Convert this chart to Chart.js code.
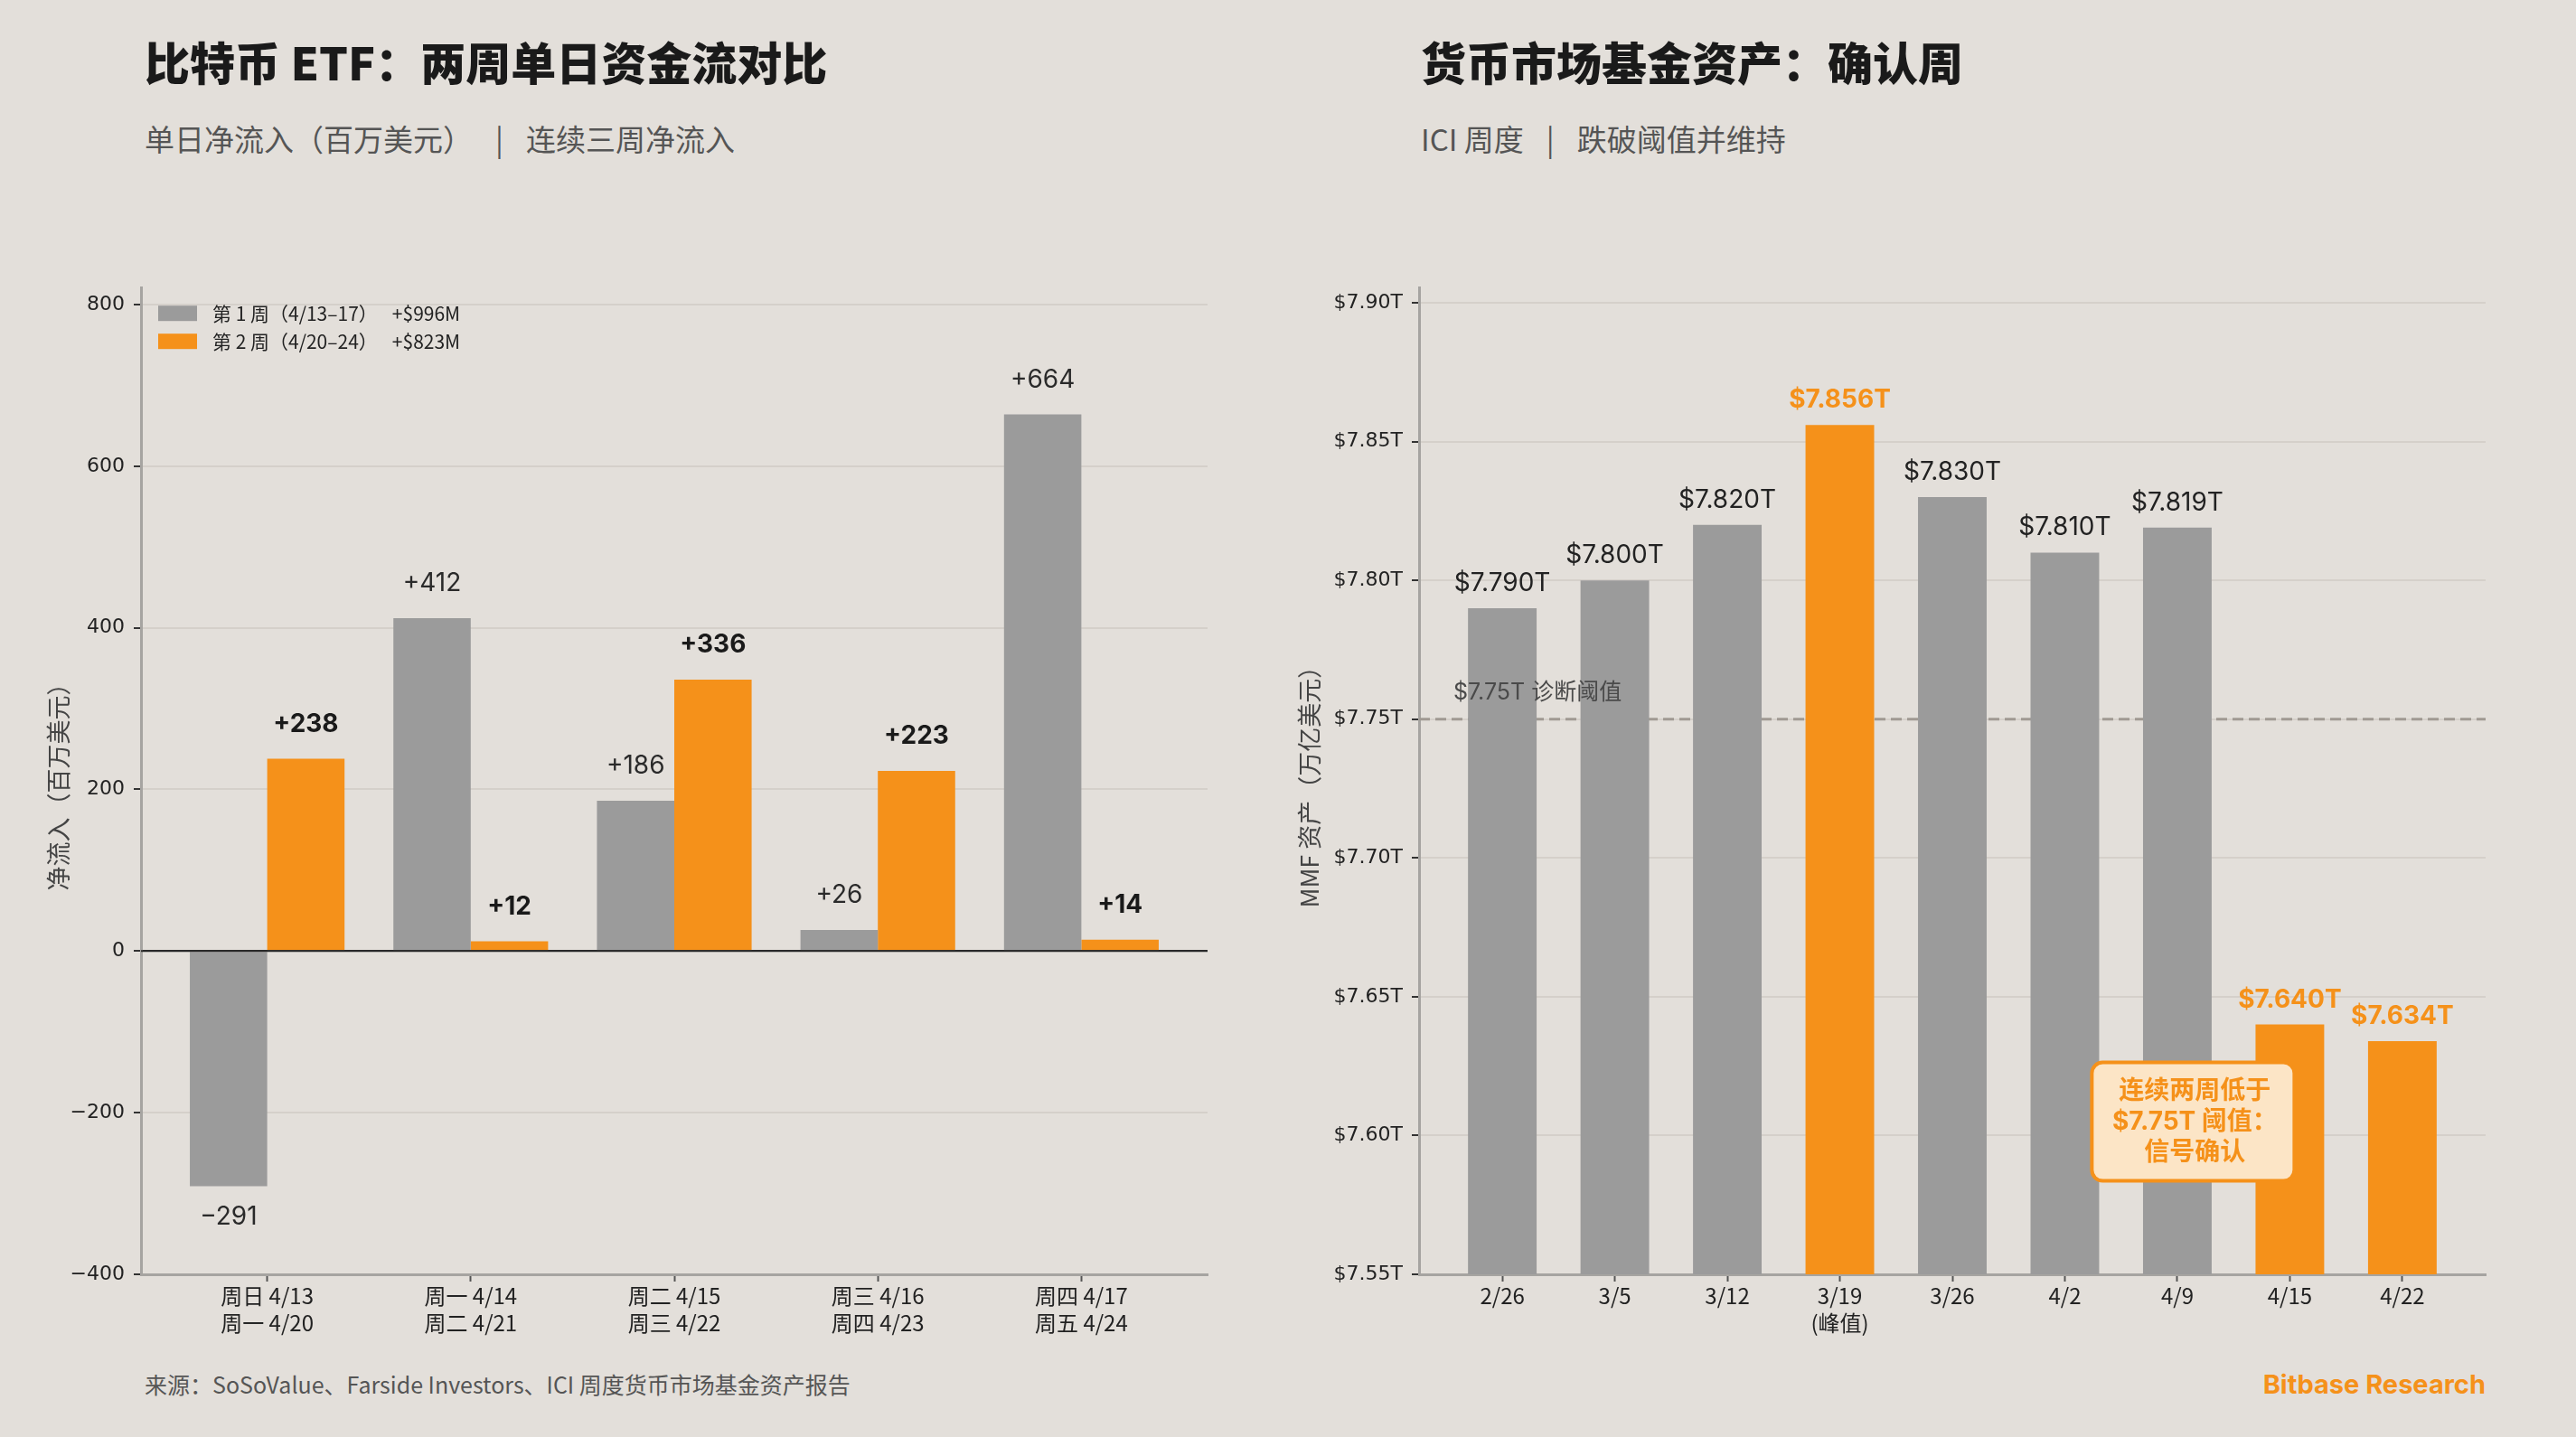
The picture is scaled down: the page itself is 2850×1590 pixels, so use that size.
<!DOCTYPE html>
<html lang="zh-CN">
<head>
<meta charset="utf-8">
<title>比特币 ETF 资金流与货币市场基金资产</title>
<script src="https://cdn.jsdelivr.net/npm/chart.js@4.4.1/dist/chart.umd.min.js"></script>
<style>
  html, body { margin: 0; padding: 0; }
  body {
    width: 2850px; height: 1590px; position: relative; overflow: hidden;
    background: #E3DFDA; font-family: "Noto Sans CJK SC", sans-serif;
  }
  .title { position: absolute; top: 42px; font-size: 50px; font-weight: 900; line-height: 1; color: #1A1A1A; white-space: nowrap; }
  .subtitle { position: absolute; top: 137px; font-size: 33px; line-height: 1; color: #555; white-space: nowrap; }
  .subtitle .sep { margin: 0 25px; }
  .source { position: absolute; left: 160px; top: 1519px; font-size: 25px; line-height: 1; color: #555; white-space: nowrap; }
  .brand { position: absolute; right: 100px; top: 1517px; font-family: Inter, sans-serif; font-size: 29px; font-weight: 700; line-height: 1; color: #F5911A; }
  canvas { position: absolute; }
</style>
</head>
<body>

<div class="title" style="left:160px">比特币 ETF：两周单日资金流对比</div>
<div class="subtitle" style="left:160px">单日净流入（百万美元）<span class="sep">|</span>连续三周净流入</div>

<div class="title" style="left:1572px">货币市场基金资产：确认周</div>
<div class="subtitle" style="left:1572px">ICI 周度<span class="sep">|</span>跌破阈值并维持</div>

<canvas id="flowChart" width="1400" height="1200" style="left:0;top:295px"></canvas>
<canvas id="mmfChart" width="1430" height="1200" style="left:1420px;top:295px"></canvas>

<div class="source">来源：SoSoValue、Farside Investors、ICI 周度货币市场基金资产报告</div>
<div class="brand">Bitbase Research</div>

<script>
// ---- Left chart data: daily net flows, $M ----
const flowDays = [
  ['周日 4/13', '周一 4/20'],
  ['周一 4/14', '周二 4/21'],
  ['周二 4/15', '周三 4/22'],
  ['周三 4/16', '周四 4/23'],
  ['周四 4/17', '周五 4/24']
];
const weekOneFlows = [-291, 412, 186, 26, 664];
const weekTwoFlows = [238, 12, 336, 223, 14];
const flowLegend = ['第 1 周（4/13–17）', '第 2 周（4/20–24）'];
const flowTotals = ['+$996M', '+$823M'];
const flowTicks = [-400, -200, 0, 200, 400, 600, 800];

// ---- Right chart data: MMF assets, $T ----
const mmfWeeks = ['2/26', '3/5', '3/12', ['3/19', '(峰值)'], '3/26', '4/2', '4/9', '4/15', '4/22'];
const mmfAssets = [7.790, 7.800, 7.820, 7.856, 7.830, 7.810, 7.819, 7.640, 7.634];
const mmfHighlight = [false, false, false, true, false, false, false, true, true];
const mmfTicks = [7.55, 7.60, 7.65, 7.70, 7.75, 7.80, 7.85, 7.90];
const mmfThreshold = 7.75;

const GRAY = '#9B9B9B';
const ORANGE = '#F5911A';
const GRID = '#D5D0CA';
const SPINE = '#A6A4A1';
const NUM_FONT = 'Inter, "Noto Sans CJK SC", sans-serif';
const TICK_FONT = '"DejaVu Sans", sans-serif';
const CJK_FONT = '"Noto Sans CJK SC", sans-serif';

function minusFmt(v) {
  return v < 0 ? '\u2212' + Math.abs(v) : String(v);
}

// Shared x axis (linear so we can pad the ends like the original)
function indexAxis(labels, min, max) {
  return {
    type: 'linear', min: min, max: max, bounds: 'data', offset: false,
    afterBuildTicks: s => { s.ticks = labels.map((_, i) => ({ value: i })); },
    afterFit: s => { s.height = 85; },
    ticks: {
      callback: v => labels[v],
      font: { family: CJK_FONT, size: 24, lineHeight: 1.25 },
      color: '#222', padding: 1, maxRotation: 0, autoSkip: false
    },
    grid: { drawOnChartArea: false, offset: false, tickLength: 8, tickColor: '#555', tickWidth: 2 },
    border: { color: SPINE, width: 3 }
  };
}

// Labels, zero line and legend for the flow chart
const flowPlugin = {
  id: 'flowDecor',
  afterDatasetsDraw(chart) {
    const ctx = chart.ctx;
    const area = chart.chartArea;
    const zeroY = chart.scales.y.getPixelForValue(0);
    ctx.save();
    ctx.strokeStyle = '#2A2A2A';
    ctx.lineWidth = 2;
    ctx.beginPath();
    ctx.moveTo(area.left, zeroY);
    ctx.lineTo(area.right, zeroY);
    ctx.stroke();

    ctx.textAlign = 'center';
    [weekOneFlows, weekTwoFlows].forEach((values, di) => {
      const bold = di === 1;
      ctx.font = (bold ? '700' : '400') + ' 28px ' + NUM_FONT;
      ctx.fillStyle = bold ? '#1A1A1A' : '#2A2A2A';
      chart.getDatasetMeta(di).data.forEach((bar, i) => {
        const v = values[i];
        if (v < 0) {
          ctx.textBaseline = 'middle';
          ctx.fillText(minusFmt(v), bar.x, bar.y + 34);
        } else {
          ctx.textBaseline = 'alphabetic';
          ctx.fillText('+' + v, bar.x, bar.y - 30);
        }
      });
    });

    // legend inside the plot, top left
    ctx.textAlign = 'left';
    ctx.textBaseline = 'middle';
    ctx.font = '400 21px ' + CJK_FONT;
    [GRAY, ORANGE].forEach((color, i) => {
      const bx = area.left + 19;
      const by = area.top + 20 + i * 31;
      ctx.fillStyle = color;
      ctx.fillRect(bx, by, 43, 17);
      ctx.fillStyle = '#222';
      ctx.fillText(flowLegend[i], bx + 60, by + 9);
      const w = ctx.measureText(flowLegend[i]).width;
      ctx.fillText(flowTotals[i], bx + 60 + w + 16, by + 9);
    });
    ctx.restore();
  }
};

// Threshold line, labels and callout for the MMF chart
const mmfPlugin = {
  id: 'mmfDecor',
  beforeDatasetsDraw(chart) {
    const ctx = chart.ctx;
    const area = chart.chartArea;
    const ty = chart.scales.y.getPixelForValue(mmfThreshold);
    ctx.save();
    ctx.strokeStyle = '#A09A93';
    ctx.lineWidth = 3;
    ctx.setLineDash([12, 6]);
    ctx.beginPath();
    ctx.moveTo(area.left, ty);
    ctx.lineTo(area.right, ty);
    ctx.stroke();
    ctx.restore();
  },
  afterDatasetsDraw(chart) {
    const ctx = chart.ctx;
    const area = chart.chartArea;
    const xs = chart.scales.x;
    const ys = chart.scales.y;
    ctx.save();
    ctx.textAlign = 'center';
    ctx.textBaseline = 'alphabetic';
    chart.getDatasetMeta(0).data.forEach((bar, i) => {
      const hot = mmfHighlight[i];
      ctx.font = (hot ? '700' : '400') + ' 28px ' + NUM_FONT;
      ctx.fillStyle = hot ? ORANGE : '#222';
      ctx.fillText('$' + mmfAssets[i].toFixed(3) + 'T', bar.x, bar.y - 19);
    });

    // threshold caption
    ctx.textAlign = 'left';
    ctx.textBaseline = 'middle';
    ctx.font = '400 25px ' + NUM_FONT;
    ctx.fillStyle = '#4A4A4A';
    ctx.fillText('$7.75T 诊断阈值', area.left + 38, ys.getPixelForValue(mmfThreshold) - 29);

    // callout box
    const cx = xs.getPixelForValue(6.14);
    const cy = ys.getPixelForValue(7.605);
    const bw = 224, bh = 131;
    ctx.beginPath();
    ctx.roundRect(cx - bw / 2, cy - bh / 2, bw, bh, 12);
    ctx.fillStyle = '#FCE5C6';
    ctx.fill();
    ctx.lineWidth = 4;
    ctx.strokeStyle = ORANGE;
    ctx.stroke();
    ctx.textAlign = 'center';
    ctx.fillStyle = ORANGE;
    ctx.font = '700 28px ' + NUM_FONT;
    ['连续两周低于', '$7.75T 阈值：', '信号确认'].forEach((line, i) => {
      ctx.fillText(line, cx + 2, cy - 34 + i * 34);
    });
    ctx.restore();
  }
};

// Left: bitcoin ETF flows
new Chart(document.getElementById('flowChart'), {
  type: 'bar',
  data: {
    datasets: [
      {
        label: flowLegend[0],
        data: weekOneFlows.map((v, i) => ({ x: i, y: v })),
        backgroundColor: GRAY,
        categoryPercentage: 0.76,
        barPercentage: 1.0
      },
      {
        label: flowLegend[1],
        data: weekTwoFlows.map((v, i) => ({ x: i, y: v })),
        backgroundColor: ORANGE,
        categoryPercentage: 0.76,
        barPercentage: 1.0
      }
    ]
  },
  options: {
    responsive: false,
    animation: false,
    layout: { padding: { top: 16, right: 64, bottom: 0, left: 0 } },
    plugins: { legend: { display: false }, tooltip: { enabled: false } },
    scales: {
      x: indexAxis(flowDays, -0.62, 4.62),
      y: {
        min: -400, max: 821, bounds: 'data',
        afterBuildTicks: s => { s.ticks = flowTicks.map(v => ({ value: v })); },
        afterFit: s => { s.width = 156; },
        ticks: { callback: v => minusFmt(v), font: { family: TICK_FONT, size: 22 }, color: '#222', padding: 10 },
        grid: {
          color: c => (c.tick && c.tick.value === 0 ? '#2A2A2A' : GRID),
          lineWidth: 2, tickLength: 8, tickColor: '#333', tickWidth: 2
        },
        border: { color: SPINE, width: 3 },
        title: {
          display: true, text: '净流入（百万美元）', color: '#444',
          font: { family: CJK_FONT, size: 27 }, padding: { top: 49, bottom: 0 }
        }
      }
    }
  },
  plugins: [flowPlugin]
});

// Right: money market fund assets
new Chart(document.getElementById('mmfChart'), {
  type: 'bar',
  data: {
    datasets: [{
      label: 'MMF 资产',
      data: mmfAssets.map((v, i) => ({ x: i, y: v })),
      backgroundColor: mmfHighlight.map(h => (h ? ORANGE : GRAY)),
      categoryPercentage: 0.61,
      barPercentage: 1.0
    }]
  },
  options: {
    responsive: false,
    animation: false,
    layout: { padding: { top: 16, right: 100, bottom: 0, left: 0 } },
    plugins: { legend: { display: false }, tooltip: { enabled: false } },
    scales: {
      x: indexAxis(mmfWeeks, -0.74, 8.74),
      y: {
        min: 7.55, max: 7.9055, bounds: 'data',
        afterBuildTicks: s => { s.ticks = mmfTicks.map(v => ({ value: v })); },
        afterFit: s => { s.width = 150; },
        ticks: { callback: v => '$' + v.toFixed(2) + 'T', font: { family: TICK_FONT, size: 22 }, color: '#222', padding: 10 },
        grid: { color: GRID, lineWidth: 2, tickLength: 8, tickColor: '#333', tickWidth: 2 },
        border: { color: SPINE, width: 3 },
        title: {
          display: true, text: 'MMF 资产（万亿美元）', color: '#444',
          font: { family: CJK_FONT, size: 27 }, padding: { top: 13, bottom: 0 }
        }
      }
    }
  },
  plugins: [mmfPlugin]
});
</script>
</body>
</html>
